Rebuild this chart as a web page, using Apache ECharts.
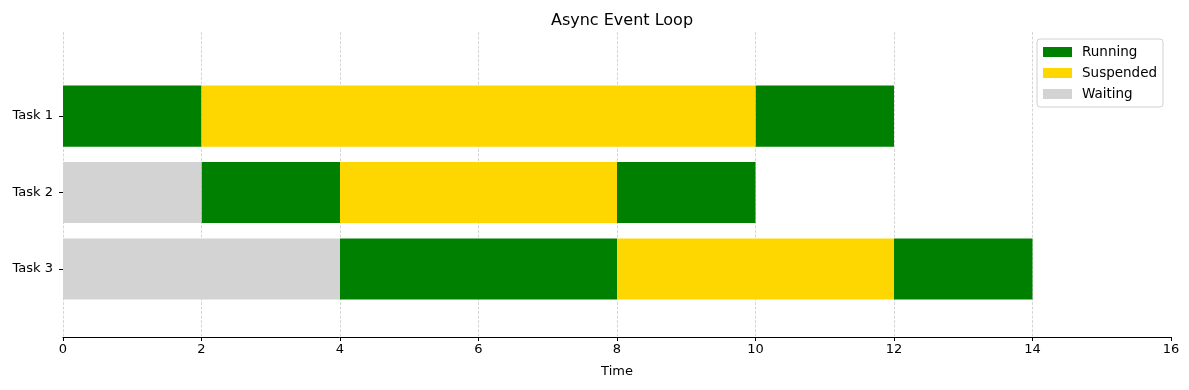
<!DOCTYPE html>
<html><head><meta charset="utf-8">
<script src="https://cdn.jsdelivr.net/npm/echarts@6/dist/echarts.min.js"></script>
<style>html,body{margin:0;padding:0;background:#fff}#c{width:1189px;height:390px}</style>
</head><body><div id="c"></div>
<script>
const tasks = ['Task 1', 'Task 2', 'Task 3'];
const xTicks = [0, 2, 4, 6, 8, 10, 12, 14, 16];
// [taskIndex, start, end]
const running = [[0, 0, 2], [0, 10, 12], [1, 2, 4], [1, 8, 10], [2, 4, 8], [2, 12, 14]];
const suspended = [[0, 2, 10], [1, 4, 8], [2, 8, 12]];
const waiting = [[1, 0, 2], [2, 0, 4]];
const statusNames = ['Running', 'Suspended', 'Waiting'];
const statusColors = ['#008000', '#FFD700', '#D3D3D3'];

const FONT = 'DejaVu Sans';
function renderItem(params, api) {
  const t = api.value(0);
  const s = api.coord([api.value(1), t]);
  const e = api.coord([api.value(2), t]);
  const h = api.size([0, 0.8])[1];
  return {
    type: 'rect',
    shape: { x: s[0], y: s[1] - h / 2, width: e[0] - s[0], height: h },
    style: api.style()
  };
}
const segs = [running, suspended, waiting];
const series = statusNames.map((n, i) => ({
  name: n,
  type: 'custom',
  renderItem: renderItem,
  itemStyle: { color: statusColors[i] },
  encode: { x: [1, 2], y: 0 },
  data: segs[i]
}));

const chart = echarts.init(document.getElementById('c'));
chart.setOption({
  animation: false,
  title: {
    text: 'Async Event Loop', left: 617, top: 8, textAlign: 'center',
    textStyle: { fontFamily: FONT, fontSize: 16, fontWeight: 'normal', color: '#000' }
  },
  legend: {
    orient: 'vertical', left: 1037, top: 39,
    data: statusNames,
    icon: 'rect', itemWidth: 29, itemHeight: 10, itemGap: 7,
    padding: [6, 6, 6, 6],
    borderColor: '#d0d0d0', borderWidth: 1, borderRadius: 3,
    backgroundColor: 'rgba(255,255,255,0.8)',
    textStyle: { fontFamily: FONT, fontSize: 13.5, color: '#000', lineHeight: 14, padding: [0, 0, 0, 5] }
  },
  grid: { left: 63, right: 18, top: 32, bottom: 53, containLabel: false },
  xAxis: {
    type: 'value', min: 0, max: 16, interval: 2,
    name: 'Time', nameLocation: 'middle', nameGap: 28,
    nameTextStyle: { fontFamily: FONT, fontSize: 13, color: '#000' },
    axisLine: { show: true, onZero: false, lineStyle: { color: '#000', width: 1 } },
    axisTick: { show: true, length: 4, lineStyle: { color: '#000' } },
    axisLabel: { fontFamily: FONT, fontSize: 13, color: '#000', margin: 6 },
    splitLine: { show: true, showMaxLine: false, lineStyle: { color: '#cccccc', width: 0.8, type: [3, 1.5] } }
  },
  yAxis: {
    type: 'value', inverse: true, min: -1.1, max: 2.89,
    axisLine: { show: false },
    axisTick: { show: true, length: 4, customValues: [0, 1, 2], lineStyle: { color: '#000' } },
    axisLabel: {
      customValues: [0, 1, 2], fontFamily: FONT, fontSize: 13, color: '#000', margin: 10,
      formatter: v => tasks[Math.round(v)] || ''
    },
    splitLine: { show: false }
  },
  series: series
});
</script></body></html>
